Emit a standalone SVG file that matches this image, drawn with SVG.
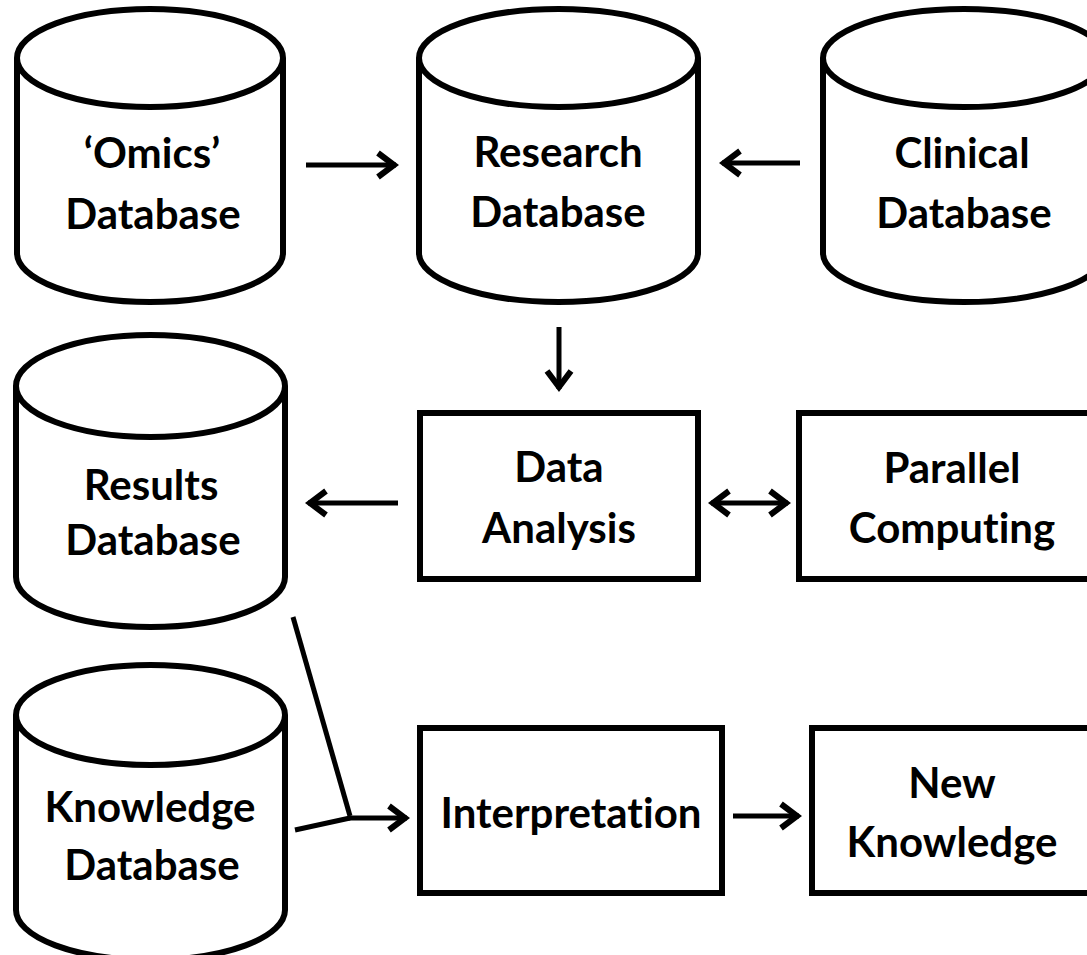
<svg xmlns="http://www.w3.org/2000/svg" width="1087" height="955" viewBox="0 0 1087 955">
  <style>
    .shape { fill: #ffffff; stroke: #000000; stroke-width: 6; stroke-linejoin: round; }
    .box { fill: #ffffff; stroke: #000000; stroke-width: 6; }
    .label { font-family: Lato, "Open Sans", "Liberation Sans", sans-serif; font-weight: bold; font-size: 42px; fill: #000000; text-anchor: middle; font-variant-ligatures: none; font-feature-settings: "liga" 0, "clig" 0; }
    .link { fill: none; stroke: #000000; stroke-width: 5; }
  </style>
  <defs>
    <marker id="head" markerUnits="userSpaceOnUse" markerWidth="30" markerHeight="30" viewBox="-26 -15 30 30" refX="0" refY="0" orient="auto-start-reverse">
      <path d="M -18,-12 L -2,0 L -18,12" fill="none" stroke="#000000" stroke-width="6" stroke-linejoin="miter"/>
    </marker>
  </defs>

  <rect width="1087" height="955" fill="#ffffff"/>

  <!-- connectors -->
  <g id="connectors">
    <line class="link" x1="306" y1="165" x2="396" y2="165" marker-end="url(#head)"/>
    <line class="link" x1="800" y1="163" x2="722" y2="163" marker-end="url(#head)"/>
    <line class="link" x1="559" y1="327" x2="559" y2="389" marker-end="url(#head)"/>
    <line class="link" x1="398" y1="503" x2="308" y2="503" marker-end="url(#head)"/>
    <line class="link" x1="711" y1="503" x2="788" y2="503" marker-start="url(#head)" marker-end="url(#head)"/>
    <line class="link" x1="293" y1="617" x2="350" y2="816"/>
    <line class="link" x1="295" y1="830" x2="350" y2="818"/>
    <line class="link" x1="348" y1="818" x2="407" y2="818" marker-end="url(#head)"/>
    <line class="link" x1="733" y1="816" x2="799" y2="816" marker-end="url(#head)"/>
  </g>

  <!-- databases -->
  <g id="omics-db">
    <path class="shape" d="M 17,58 L 17,253 A 133,49 0 0 0 283,253 L 283,58"/>
    <ellipse class="shape" cx="150" cy="58" rx="133" ry="49"/>
    <text class="label" x="152" y="168">‘Omics’</text>
    <text class="label" x="153" y="229">Database</text>
  </g>

  <g id="research-db">
    <path class="shape" d="M 419,58 L 419,253 A 139.5,49 0 0 0 698,253 L 698,58"/>
    <ellipse class="shape" cx="558.5" cy="58" rx="139.5" ry="49"/>
    <text class="label" x="558" y="167">Research</text>
    <text class="label" x="558" y="227">Database</text>
  </g>

  <g id="clinical-db">
    <path class="shape" d="M 823,58 L 823,253 A 141,49 0 0 0 1105,253 L 1105,58"/>
    <ellipse class="shape" cx="964" cy="58" rx="141" ry="49"/>
    <text class="label" x="962" y="168">Clinical</text>
    <text class="label" x="964" y="228">Database</text>
  </g>

  <g id="results-db">
    <path class="shape" d="M 16,386 L 16,577 A 134.5,50 0 0 0 285,577 L 285,386"/>
    <ellipse class="shape" cx="150.5" cy="386" rx="134.5" ry="51"/>
    <text class="label" x="151" y="500">Results</text>
    <text class="label" x="153" y="555">Database</text>
  </g>

  <g id="knowledge-db">
    <path class="shape" d="M 16,715 L 16,910 A 134.5,50 0 0 0 285,910 L 285,715"/>
    <ellipse class="shape" cx="150.5" cy="715" rx="134.5" ry="50"/>
    <text class="label" x="150" y="822">Knowledge</text>
    <text class="label" x="152" y="880">Database</text>
  </g>

  <!-- process boxes -->
  <g id="data-analysis">
    <rect class="box" x="420" y="413" width="278" height="166"/>
    <text class="label" x="559" y="482">Data</text>
    <text class="label" x="559" y="543">Analysis</text>
  </g>

  <g id="parallel-computing">
    <rect class="box" x="799" y="413" width="300" height="166"/>
    <text class="label" x="952" y="483">Parallel</text>
    <text class="label" x="952" y="543">Computing</text>
  </g>

  <g id="interpretation">
    <rect class="box" x="420" y="728" width="302" height="165"/>
    <text class="label" x="571" y="828">Interpretation</text>
  </g>

  <g id="new-knowledge">
    <rect class="box" x="812" y="728" width="290" height="165"/>
    <text class="label" x="952" y="798">New</text>
    <text class="label" x="952" y="857">Knowledge</text>
  </g>
</svg>
